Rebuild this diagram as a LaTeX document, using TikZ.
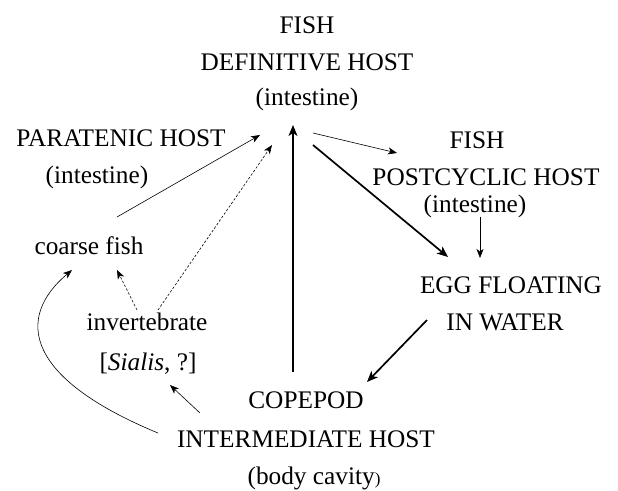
\documentclass[tikz,border=0pt]{standalone}
\usepackage{fontspec}
\setmainfont{Liberation Serif}
\usetikzlibrary{arrows.meta}
\begin{document}
\begin{tikzpicture}[x=1pt,y=-1pt,
  lbl/.style={anchor=base,inner sep=0pt,font=\fontsize{25.3}{30}\selectfont},
  thin/.style={line width=0.6pt,-{Stealth[length=9pt,width=7pt,inset=2.5pt]}},
  thick/.style={line width=1.7pt,-{Stealth[length=11pt,width=9pt,inset=3pt]}},
  dsh/.style={line width=0.6pt,dash pattern=on 2.5pt off 1.8pt,-{Stealth[length=9pt,width=7pt,inset=2.5pt]}}]
\useasboundingbox (0,0) rectangle (618,490);
% nodes
\node[lbl] (fish1) at (307,33) {FISH};
\node[lbl] (defh) at (307,70) {DEFINITIVE HOST};
\node[lbl] (int1) at (307,105) {(intestine)};
\node[lbl] (para) at (121,146) {PARATENIC HOST};
\node[lbl] (int2) at (97,183) {(intestine)};
\node[lbl] (coarse) at (89,254) {coarse fish};
\node[lbl] (invert) at (147,330) {invertebrate};
\node[lbl] (sialis) at (148,370) {[\textit{Sialis}, ?]};
\node[lbl] (cope) at (306,408) {COPEPOD};
\node[lbl] (inter) at (306,447) {INTERMEDIATE HOST};
\node[lbl] (body) at (314,484) {(body cavity{\fontsize{17}{20}\selectfont )}};
\node[lbl] (fish2) at (477,148) {FISH};
\node[lbl] (post) at (486,185) {POSTCYCLIC HOST};
\node[lbl] (int3) at (475,212) {(intestine)};
\node[lbl] (egg) at (511,293) {EGG FLOATING};
\node[lbl] (water) at (505,330) {IN WATER};
% connector endpoints
\coordinate (interTop) at (293,372);
\coordinate (defBot) at (293,125);
\coordinate (coarseOut) at (117,217);
\coordinate (defLeftA) at (260,135);
\coordinate (invOutR) at (158,310);
\coordinate (defLeftB) at (272,145);
\coordinate (invOutL) at (137,310);
\coordinate (coarseInR) at (117,270);
\coordinate (interOutL) at (158,433);
\coordinate (coarseInL) at (72,270);
\coordinate (interOutM) at (200,413);
\coordinate (sialisIn) at (170,385);
\coordinate (defOutA) at (313,133);
\coordinate (postIn) at (397,153);
\coordinate (defOutB) at (313,145);
\coordinate (eggInL) at (448,257);
\coordinate (postOut) at (480,217);
\coordinate (eggInR) at (480,258);
\coordinate (eggOut) at (427,320);
\coordinate (copeIn) at (367,382);
% connectors
\draw[thick] (interTop) -- (defBot);
\draw[thin] (coarseOut) -- (defLeftA);
\draw[dsh] (invOutR) -- (defLeftB);
\draw[dsh] (invOutL) -- (coarseInR);
\draw[thin] (interOutL) .. controls (25,378) and (15,318) .. (coarseInL);
\draw[thin] (interOutM) -- (sialisIn);
\draw[thin] (defOutA) -- (postIn);
\draw[thick] (defOutB) -- (eggInL);
\draw[thin] (postOut) -- (eggInR);
\draw[thick] (eggOut) -- (copeIn);
\end{tikzpicture}
\end{document}
